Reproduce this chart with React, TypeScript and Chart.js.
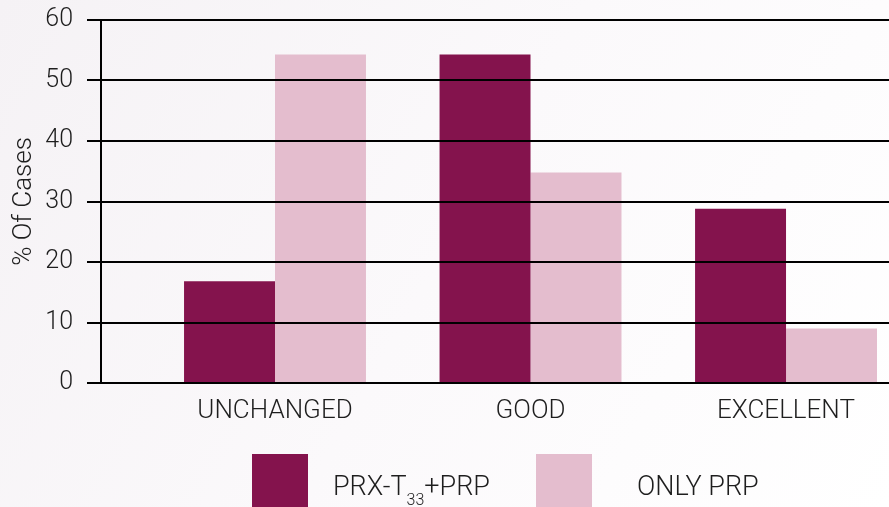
import { useEffect, useRef } from 'react';
import { Chart, registerables } from 'chart.js';

Chart.register(...registerables);

// ---- data ----
const categories = ['UNCHANGED', 'GOOD', 'EXCELLENT'];
const seriesLabels = ['PRX-T₃₃+PRP', 'ONLY PRP'];
const prxT33Values = [16.8, 54.3, 28.8];
const onlyPrpValues = [54.3, 34.8, 9];
const yTickValues = [0, 10, 20, 30, 40, 50, 60];
// legend text pieces (subscript rendered smaller and lower)
const legendPieces = [
  [{ t: 'PRX-T' }, { t: '33', sub: true }, { t: '+PRP' }],
  [{ t: 'ONLY PRP' }],
];

// ---- styles ----
const DARK = '#84134d';
const LIGHT = '#e4bdce';
const FONT = 'Roboto';
const TEXT = '#1e1e1e';

const backgroundPlugin = {
  id: 'softBackground',
  beforeDraw(chart: any) {
    const { ctx, width, height } = chart;
    const g = ctx.createLinearGradient(0, 0, width, height);
    g.addColorStop(0, '#f5f2f5');
    g.addColorStop(0.5, '#fbf9fb');
    g.addColorStop(1, '#ffffff');
    ctx.save();
    ctx.fillStyle = g;
    ctx.fillRect(0, 0, width, height);
    ctx.restore();
  },
};

const LEGEND = { left: 252, step: 284, top: 454, box: 56, textGap: [25, 45], baseline: 495, subDrop: 10, size: 27, subSize: 16 };

const legendPlugin = {
  id: 'pieceLegend',
  afterDraw(chart: any) {
    const { ctx } = chart;
    ctx.save();
    chart.data.datasets.forEach((ds: any, i: number) => {
      const x = LEGEND.left + i * LEGEND.step;
      ctx.fillStyle = ds.backgroundColor;
      ctx.fillRect(x, LEGEND.top, LEGEND.box, LEGEND.box);
      let tx = x + LEGEND.box + LEGEND.textGap[i];
      ctx.fillStyle = TEXT;
      ctx.textBaseline = 'alphabetic';
      ctx.textAlign = 'left';
      for (const p of legendPieces[i] as any[]) {
        ctx.font = `300 ${p.sub ? LEGEND.subSize : LEGEND.size}px ${FONT}`;
        ctx.fillText(p.t, tx, p.sub ? LEGEND.baseline + LEGEND.subDrop : LEGEND.baseline);
        tx += ctx.measureText(p.t).width;
      }
    });
    ctx.restore();
  },
};

export default function App() {
  const ref = useRef<HTMLCanvasElement | null>(null);

  useEffect(() => {
    if (!ref.current) return;
    const chart = new Chart(ref.current, {
      type: 'bar',
      data: {
        datasets: [
          {
            label: seriesLabels[0],
            data: prxT33Values.map((v, i) => ({ x: i + 1, y: v })),
            backgroundColor: DARK,
            categoryPercentage: 0.712,
            barPercentage: 1,
          },
          {
            label: seriesLabels[1],
            data: onlyPrpValues.map((v, i) => ({ x: i + 1, y: v })),
            backgroundColor: LIGHT,
            categoryPercentage: 0.712,
            barPercentage: 1,
          },
        ],
      },
      options: {
        responsive: false,
        animation: false,
        layout: { padding: { top: 20, right: 0, bottom: 67, left: 0 } },
        plugins: { legend: { display: false }, tooltip: { enabled: false } },
        scales: {
          x: {
            type: 'linear',
            min: 0.319,
            max: 3.403,
            offset: false,
            grid: { display: false, drawTicks: false },
            border: { display: false },
            afterBuildTicks: (s: any) => {
              s.ticks = categories.map((_, i) => ({ value: i + 1 }));
            },
            afterFit: (s: any) => {
              s.height = 57;
              s.paddingLeft = 0;
              s.paddingRight = 0;
            },
            ticks: {
              autoSkip: false,
              maxRotation: 0,
              padding: 13,
              color: TEXT,
              font: { family: FONT, size: 26, weight: '300' },
              callback: (v: any) => categories[Math.round(Number(v)) - 1] ?? '',
            },
          },
          y: {
            min: 0,
            max: 60,
            afterBuildTicks: (s: any) => {
              s.ticks = yTickValues.map((v) => ({ value: v }));
            },
            afterFit: (s: any) => {
              s.width = 101;
              s.paddingTop = 0;
              s.paddingBottom = 0;
            },
            grid: { color: '#000000', lineWidth: 2, tickLength: 14, z: 1 },
            border: { color: '#000000', width: 2, z: 1 },
            ticks: {
              padding: 14,
              color: TEXT,
              font: { family: FONT, size: 25, weight: '300' },
            },
            title: {
              display: true,
              text: '% Of Cases',
              color: TEXT,
              font: { family: FONT, size: 26, weight: '300' },
              padding: { top: 9, bottom: 0 },
            },
          },
        },
      },
      plugins: [backgroundPlugin, legendPlugin],
    } as any);
    return () => chart.destroy();
  }, []);

  return (
    <div style={{ position: 'absolute', left: 0, top: 0, width: 889, height: 507, overflow: 'hidden' }}>
      <canvas ref={ref} width={889} height={507} style={{ display: 'block', width: 889, height: 507 }} />
    </div>
  );
}
